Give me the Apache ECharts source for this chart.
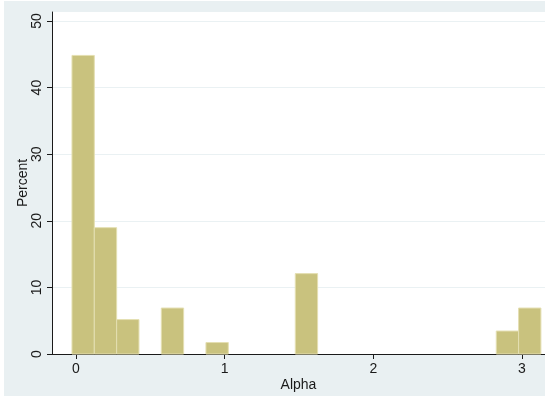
<!DOCTYPE html>
<html>
<head>
<meta charset="utf-8">
<script src="https://cdn.jsdelivr.net/npm/echarts@6/dist/echarts.min.js"></script>
<style>
  html, body { margin: 0; padding: 0; background: #ffffff; }
  #chart { width: 545px; height: 403px; }
</style>
</head>
<body>
<div id="chart"></div>
<script>
// Histogram of Alpha: 21 equal-width bins, heights in percent
const binStart = -0.027;
const binWidth = 0.1502;
const percent = [44.83, 18.97, 5.17, 0, 6.90, 0, 1.72, 0, 0, 0,
                 12.07, 0, 0, 0, 0, 0, 0, 0, 0, 3.45, 6.90];
const xTicks = [0, 1, 2, 3];
const yTicks = [0, 10, 20, 30, 40, 50];

const bins = percent.map((p, i) => [binStart + i * binWidth, binStart + (i + 1) * binWidth, p]);

const chart = echarts.init(document.getElementById('chart'), null, { renderer: 'canvas' });

const labelFont = { fontFamily: 'Liberation Sans, Arial, sans-serif', fontSize: 14, color: '#1a1a1a' };

chart.setOption({
  animation: false,
  backgroundColor: '#ffffff',
  graphic: [{
    type: 'rect',
    z: -10,
    shape: { x: 4, y: 1, width: 541, height: 395 },
    style: { fill: '#e9f0f2' },
    silent: true
  }],
  grid: {
    left: 52, right: 0, top: 12, bottom: 49,
    show: true, backgroundColor: '#ffffff', borderWidth: 0
  },
  xAxis: {
    type: 'value',
    min: -0.1614, max: 3.1547,
    name: 'Alpha',
    nameLocation: 'middle',
    nameGap: 24,
    nameMoveOverlap: false,
    nameTextStyle: labelFont,
    axisLine: { show: true, onZero: false, lineStyle: { color: '#1a1a1a', width: 1 } },
    axisTick: { show: true, length: 5, customValues: xTicks, lineStyle: { color: '#1a1a1a' } },
    axisLabel: Object.assign({ margin: 8, customValues: xTicks }, labelFont),
    splitLine: { show: false }
  },
  yAxis: {
    type: 'value',
    min: 0, max: 51.35,
    name: 'Percent',
    nameLocation: 'middle',
    nameGap: 22,
    nameMoveOverlap: false,
    nameTextStyle: labelFont,
    axisLine: { show: true, onZero: false, lineStyle: { color: '#1a1a1a', width: 1 } },
    axisTick: { show: true, length: 5, customValues: yTicks, lineStyle: { color: '#1a1a1a' } },
    axisLabel: Object.assign({ margin: 8, rotate: 90, customValues: yTicks }, labelFont),
    splitLine: { show: true, lineStyle: { color: '#eaf1f3', width: 1 } }
  },
  series: [{
    type: 'custom',
    data: bins,
    encode: { x: [0, 1], y: 2 },
    renderItem: function (params, api) {
      const h = api.value(2);
      if (!h) return null;
      const p0 = api.coord([api.value(0), h]);
      const p1 = api.coord([api.value(1), 0]);
      return {
        type: 'rect',
        shape: { x: p0[0], y: p0[1], width: p1[0] - p0[0], height: p1[1] - p0[1] },
        style: { fill: '#c9c27e', stroke: '#e4dfb2', lineWidth: 1 }
      };
    }
  }]
});
</script>
</body>
</html>
